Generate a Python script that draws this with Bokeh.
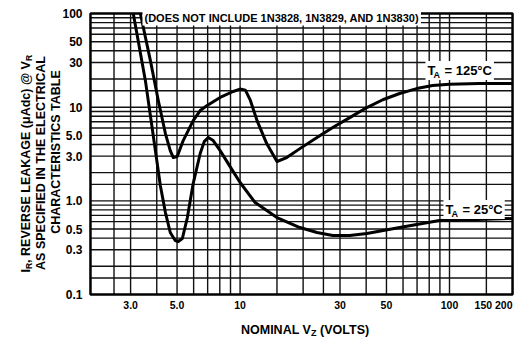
import math
from bokeh.plotting import figure
from bokeh.models import Label, Range1d
from bokeh.embed import file_html
from bokeh.resources import INLINE

# ---------------- data ----------------
# T_A = 125 C curve : nominal Vz (volts) vs reverse leakage (uA)
vz_125 = [3.34, 3.73, 4.07, 4.40, 4.64, 4.80, 5.01, 5.35, 5.97, 6.45, 6.96, 8.03,
          9.26, 10.0, 10.6, 11.2, 12.05, 13.4, 15.0, 16.7, 19.3, 23.3, 27.7, 33.4,
          40.3, 48.0, 57.8, 69.7, 83.0, 100, 139, 200]
ir_125 = [100, 31.4, 11.7, 5.23, 3.44, 2.90, 2.97, 4.40, 7.19, 9.20, 10.4, 12.7,
          14.7, 15.6, 15.2, 11.8, 7.19, 4.09, 2.63, 2.90, 3.61, 4.74, 6.06, 7.74,
          9.91, 12.0, 14.0, 15.8, 17.0, 17.6, 17.9, 17.9]

# T_A = 25 C curve
vz_25 = [3.09, 3.53, 3.94, 4.16, 4.40, 4.64, 4.90, 5.07, 5.30, 5.60, 5.97, 6.45,
         6.74, 7.05, 7.44, 8.03, 8.96, 10.0, 11.8, 15.0, 19.3, 23.3, 27.7, 33.4,
         40.3, 57.8, 89.6, 124, 200]
ir_25 = [100, 19.2, 3.44, 1.46, 0.75, 0.459, 0.377, 0.368, 0.396, 0.663, 1.53, 3.20,
         4.29, 4.74, 4.40, 3.44, 2.32, 1.57, 0.96, 0.663, 0.519, 0.459, 0.426, 0.426,
         0.448, 0.519, 0.616, 0.63, 0.647]

x_ticks = [3, 5, 10, 30, 50, 100, 150, 200]
x_tick_labels = ["3.0", "5.0", "10", "30", "50", "100", "150", "200"]
y_ticks = [0.1, 0.3, 0.5, 1, 3, 5, 10, 30, 50, 100]
y_tick_labels = ["0.1", "0.3", "0.5", "1.0", "3.0", "5.0", "10", "30", "50", "100"]

x_grid = [2.5, 3, 4, 5, 6, 7, 8, 9, 10, 15, 20, 25, 30, 40, 50, 60, 70, 80, 90,
          100, 150]
y_grid = [0.15, 0.2, 0.3, 0.4, 0.5, 0.6, 0.7, 0.8, 0.9,
          1, 1.5, 2, 3, 4, 5, 6, 7, 8, 9,
          10, 15, 20, 30, 40, 50, 60, 70, 80, 90]

# chart box (axis extents)
X_LO, X_HI = 1.93, 200
Y_LO, Y_HI = 0.1, 100

FONT = "Liberation Sans"

p = figure(width=520, height=337, x_axis_type="log", y_axis_type="log",
           x_range=Range1d(0.7176, 218.3), y_range=Range1d(0.03475, 137.7),
           x_axis_location=None, y_axis_location=None,
           output_backend="svg", toolbar_location=None,
           min_border_left=0, min_border_right=0, min_border_top=0,
           min_border_bottom=0)
p.background_fill_color = "white"
p.border_fill_color = "white"
p.outline_line_color = None
p.grid.visible = False

# grid lines
p.segment(x0=x_grid, y0=[Y_LO] * len(x_grid), x1=x_grid, y1=[Y_HI] * len(x_grid),
          line_color="#111111", line_width=1.4)
p.segment(x0=[X_LO] * len(y_grid), y0=y_grid, x1=[X_HI] * len(y_grid), y1=y_grid,
          line_color="#111111", line_width=1.4)
# chart border
p.quad(left=[X_LO], right=[X_HI], bottom=[Y_LO], top=[Y_HI], fill_color=None,
       line_color="black", line_width=2.5)

# curves
p.line(vz_125, ir_125, line_width=3, line_color="black", line_join="round")
p.line(vz_25, ir_25, line_width=3, line_color="black", line_join="round")


def lab(text, dx, dy, size, angle=0.0, align="left", baseline="middle",
        bg=None, pad=2, x=X_LO, y=Y_LO):
    kw = dict(x=x, y=y, x_offset=dx, y_offset=dy, text=text,
              text_font=FONT, text_font_style="bold",
              text_font_size=f"{size}px", text_color="black",
              text_align=align, text_baseline=baseline, angle=angle)
    if bg:
        kw.update(background_fill_color=bg, padding=pad)
    p.add_layout(Label(**kw))


# y tick labels
for v, s in zip(y_ticks, y_tick_labels):
    lab(s, -8, 0, 12, align="right", y=v)

# x tick labels
x_tick_nudge = {150: -3}
for i, (v, s) in enumerate(zip(x_ticks, x_tick_labels)):
    last = i == len(x_ticks) - 1
    lab(s, 0 if last else x_tick_nudge.get(v, 0), -10, 10.5,
        align="right" if last else "center", x=v)

# x axis title: NOMINAL V_Z (VOLTS)
lab("NOMINAL V", 150.5, -35.5, 12.5, baseline="alphabetic")
lab("Z", 220.6, -38, 9, baseline="alphabetic")
lab("(VOLTS)", 229.6, -35.5, 12.5, baseline="alphabetic")

# y axis title (rotated)
A = math.pi / 2
lab("I", -64.5, 22, 12.5, angle=A, baseline="alphabetic")
lab("R", -61.5, 25.5, 8.5, angle=A, baseline="alphabetic")
lab(", REVERSE LEAKAGE (\u03bcAdc) @ V", -64.5, 31.6, 12.5, angle=A, baseline="alphabetic")
lab("R", -61.5, 233.4, 8.5, angle=A, baseline="alphabetic")
lab("AS SPECIFIED IN THE ELECTRICAL", -49.5, 131.5, 12.5, angle=A, align="center",
    baseline="alphabetic")
lab("CHARACTERISTICS TABLE", -34.5, 142.5, 12.5, angle=A, align="center",
    baseline="alphabetic")

# annotations inside the chart (T box widened to sit under the subscript A)
t_pad = dict(left=2, right=10, top=2, bottom=2)
lab("(DOES NOT INCLUDE 1N3828, 1N3829, AND 1N3830)", 52, 277, 11, bg="white")
lab("T", 335, 224, 13, bg="white", pad=t_pad)
lab("A", 343, 220, 9)
lab("= 125\u00b0C", 352, 224, 13, bg="white")
lab("T", 353, 85, 13, bg="white", pad=t_pad)
lab("A", 361, 81, 9)
lab("= 25\u00b0C", 370, 85, 13, bg="white")

open("out.html", "w").write(file_html(p, INLINE, title="leakage"))
